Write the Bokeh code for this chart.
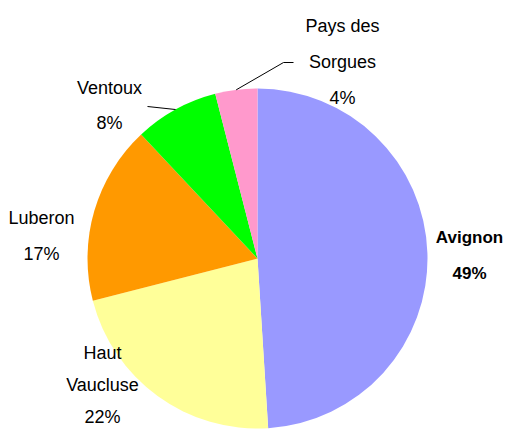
import math
from bokeh.plotting import figure
from bokeh.models import Range1d, ColumnDataSource
from bokeh.core.properties import value
from bokeh.embed import file_html
from bokeh.resources import INLINE

# ---- data ----
categories = ["Avignon", "Haut Vaucluse", "Luberon", "Ventoux", "Pays des Sorgues"]
shares = [49, 22, 17, 8, 4]
label_lines = [["Avignon"], ["Haut", "Vaucluse"], ["Luberon"], ["Ventoux"], ["Pays des", "Sorgues"]]
colors = ["#9999FF", "#FFFF99", "#FF9900", "#00FF00", "#FF99CC"]

# ---- layout (pixels from the figure's top-left) ----
W, H = 505, 430
CX, CY, R = 257, 258, 170
label_pos = [(469, 237), (102, 352), (41, 217), (109, 87), (342, 25)]  # first line centre
line_gaps = [36, 32, 36, 35, 36]
bold = [True, False, False, False, False]
leader_elbow = {3: [(147, 106)], 4: [(283, 62), (293, 62)]}
FONT = "Liberation Sans"

def Y(ys):
    return H - ys

p = figure(width=W, height=H, output_backend="svg", toolbar_location=None,
           x_range=Range1d(0, W), y_range=Range1d(0, H), min_border=0)
p.axis.visible = False
p.grid.visible = False
p.outline_line_color = None
p.background_fill_color = "white"
p.border_fill_color = "white"

total = sum(shares)
cum = 0
starts, ends, mids = [], [], []
for s in shares:
    a0 = cum / total
    cum += s
    a1 = cum / total
    starts.append(math.pi / 2 - a1 * 2 * math.pi)
    ends.append(math.pi / 2 - a0 * 2 * math.pi)
    mids.append((a0 + a1) / 2)

src = ColumnDataSource(dict(x=[CX] * len(shares), y=[Y(CY)] * len(shares),
                            start=starts, end=ends, color=colors, cat=categories))
p.wedge(x="x", y="y", radius=R, start_angle="start", end_angle="end",
        fill_color="color", line_color=None, source=src)

# leader lines
for i, pts in leader_elbow.items():
    th = mids[i] * 2 * math.pi
    x0 = CX + R * math.sin(th)
    y0 = CY - R * math.cos(th)
    xs = [x0] + [q[0] for q in pts]
    ys = [Y(y0)] + [Y(q[1]) for q in pts]
    p.line(xs, ys, line_color="black", line_width=1)

# labels
for i, lines in enumerate(label_lines):
    lx, ly = label_pos[i]
    all_lines = lines + [f"{shares[i]}%"]
    for k, t in enumerate(all_lines):
        p.text(x=[lx], y=[Y(ly + k * line_gaps[i])], text=[t],
               text_font=value(FONT), text_font_size="17px" if bold[i] else "18px",
               text_font_style="bold" if bold[i] else "normal",
               text_align="center", text_baseline="middle", text_color="black")

open("out.html", "w").write(file_html(p, INLINE))
